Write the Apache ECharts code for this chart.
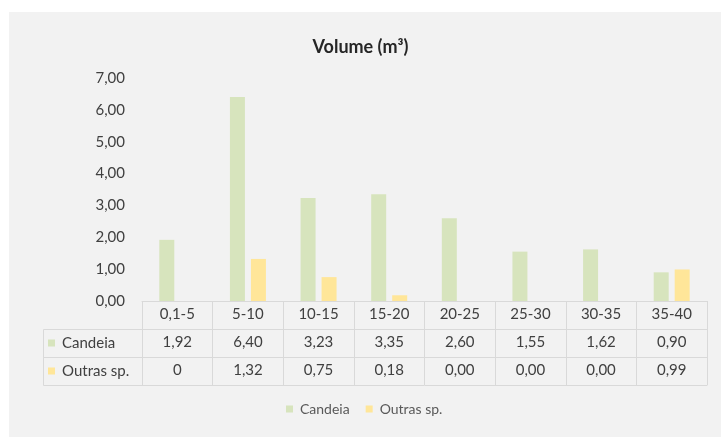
<!DOCTYPE html>
<html>
<head>
<meta charset="utf-8">
<script src="https://cdn.jsdelivr.net/npm/echarts@6/dist/echarts.min.js"></script>
<style>
  html, body { margin: 0; padding: 0; background: #fff; }
  #chart { width: 721px; height: 437px; }
</style>
</head>
<body>
<div id="chart"></div>
<script>
// Diameter classes (cm) and volume per class for each group
const categories = ['0,1-5', '5-10', '10-15', '15-20', '20-25', '25-30', '30-35', '35-40'];
const seriesNames = ['Candeia', 'Outras sp.'];
const candeia = [1.92, 6.40, 3.23, 3.35, 2.60, 1.55, 1.62, 0.90];
const outras = [0, 1.32, 0.75, 0.18, 0.00, 0.00, 0.00, 0.99];
// decimals shown in the data table cells
const candeiaDecimals = [2, 2, 2, 2, 2, 2, 2, 2];
const outrasDecimals = [0, 2, 2, 2, 2, 2, 2, 2];
const yTicks = { min: 0, max: 7, interval: 1 };

const colors = ['#d7e4bd', '#ffe699'];
const textColor = '#404040';
const lineColor = '#d9d9d9';
const FONT = 'Lato, "Open Sans", sans-serif';

// layout
const W = 721, H = 437;
const gridLeft = 142, gridRight = 14, gridTop = 78, gridBottom = 136;
const rowH = 28;
const tableLeft = 43;
const axisY = H - gridBottom;

const fmt = (v, d) => v.toFixed(d).replace('.', ',');

const chart = echarts.init(document.getElementById('chart'), null, { renderer: 'canvas' });

function tableAxis(offset, formatter, showLabel) {
  return {
    type: 'category',
    data: categories,
    position: 'bottom',
    offset: offset,
    axisLine: { show: true, lineStyle: { color: lineColor, width: 1 } },
    axisTick: { show: false },
    axisLabel: {
      show: showLabel,
      interval: 0,
      margin: 6,
      color: textColor,
      fontFamily: FONT,
      fontSize: 15,
      formatter: formatter
    },
    splitLine: { show: false }
  };
}

const rowLabelGraphics = [];
seriesNames.forEach((name, i) => {
  const y0 = axisY + rowH * (i + 1);
  rowLabelGraphics.push({
    type: 'rect',
    shape: { x: tableLeft + 0.5, y: y0 + 0.5, width: gridLeft - tableLeft, height: rowH },
    style: { fill: 'none', stroke: lineColor, lineWidth: 1 },
    z: 5
  });
  rowLabelGraphics.push({
    type: 'rect',
    shape: { x: tableLeft + 5, y: y0 + rowH / 2 - 3.5, width: 7, height: 7 },
    style: { fill: colors[i] },
    z: 6
  });
  rowLabelGraphics.push({
    type: 'text',
    x: tableLeft + 19,
    y: y0 + rowH / 2,
    style: {
      text: name, fill: textColor, font: '15px ' + FONT,
      textVerticalAlign: 'middle', verticalAlign: 'middle'
    },
    z: 6
  });
});

const option = {
  backgroundColor: '#ffffff',
  animation: false,
  color: colors,
  title: {
    text: 'Volume (m³)',
    left: 'center',
    top: 33,
    textStyle: { fontFamily: FONT, fontSize: 18, fontWeight: 'bold', color: '#262626' }
  },
  legend: {
    data: seriesNames,
    left: 281,
    bottom: 16,
    icon: 'rect',
    itemWidth: 7,
    itemHeight: 7,
    itemGap: 16,
    textStyle: { fontFamily: FONT, fontSize: 14, color: '#595959', padding: [0, 0, 0, 2] }
  },
  grid: { left: gridLeft, right: gridRight, top: gridTop, bottom: gridBottom, containLabel: false },
  graphic: [
    {
      type: 'rect',
      shape: { x: 9, y: 12, width: W - 9, height: H - 12 },
      style: { fill: '#f2f2f2' },
      z: -10,
      silent: true
    }
  ].concat(rowLabelGraphics),
  xAxis: [
    Object.assign(tableAxis(0, v => v, true), {
      axisTick: { show: true, length: rowH * 3, lineStyle: { color: lineColor } }
    }),
    tableAxis(rowH, (v, i) => fmt(candeia[i], candeiaDecimals[i]), true),
    tableAxis(rowH * 2, (v, i) => fmt(outras[i], outrasDecimals[i]), true),
    tableAxis(rowH * 3, v => '', false)
  ],
  yAxis: {
    type: 'value',
    min: yTicks.min,
    max: yTicks.max,
    interval: yTicks.interval,
    axisLine: { show: false },
    axisTick: { show: false },
    splitLine: { show: false },
    axisLabel: {
      margin: 17,
      color: textColor,
      fontFamily: FONT,
      fontSize: 15,
      formatter: v => fmt(v, 2)
    }
  },
  series: [
    { name: seriesNames[0], type: 'bar', xAxisIndex: 0, data: candeia, barWidth: 15, barGap: '40%', itemStyle: { color: colors[0] } },
    { name: seriesNames[1], type: 'bar', xAxisIndex: 0, data: outras, barWidth: 15, barGap: '40%', itemStyle: { color: colors[1] } }
  ]
};

chart.setOption(option);
</script>
</body>
</html>
